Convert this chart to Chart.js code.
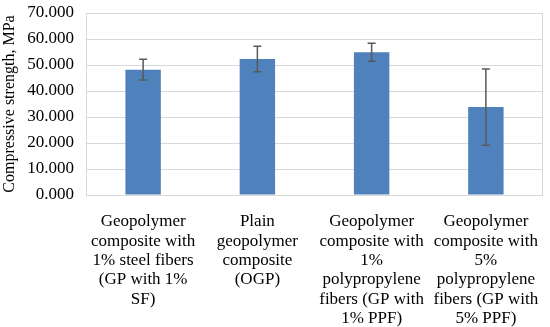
<!DOCTYPE html>
<html>
<head>
<meta charset="utf-8">
<script src="https://cdn.jsdelivr.net/npm/chart.js@4/dist/chart.umd.min.js"></script>
<style>
  html, body { margin: 0; padding: 0; background: #fff; }
  #wrap { width: 550px; height: 327px; }
</style>
</head>
<body>
<div id="wrap"><canvas id="strengthChart"></canvas></div>
<script>
// data
const categories = [
    ['Geopolymer', 'composite with', '1% steel fibers', '(GP with 1%', 'SF)'],
    ['Plain', 'geopolymer', 'composite', '(OGP)'],
    ['Geopolymer', 'composite with', '1%', 'polypropylene', 'fibers (GP with', '1% PPF)'],
    ['Geopolymer', 'composite with', '5%', 'polypropylene', 'fibers (GP with', '5% PPF)']
];
const strength = [48.2, 52.3, 54.9, 33.8];
const errorPlusMinus = [4.0, 4.9, 3.5, 14.7];
const yTicks = [0, 10, 20, 30, 40, 50, 60, 70];

// error bars drawn through the y scale
const errorBars = {
    id: 'errorBars',
    afterDatasetsDraw(chart) {
        const ctx = chart.ctx;
        const yScale = chart.scales.y;
        const meta = chart.getDatasetMeta(0);
        ctx.save();
        ctx.strokeStyle = '#595959';
        ctx.lineWidth = 1.5;
        meta.data.forEach((bar, i) => {
            const x = bar.x;
            const top = yScale.getPixelForValue(strength[i] + errorPlusMinus[i]);
            const bottom = yScale.getPixelForValue(strength[i] - errorPlusMinus[i]);
            ctx.beginPath();
            ctx.moveTo(x, top);
            ctx.lineTo(x, bottom);
            ctx.moveTo(x - 4, top);
            ctx.lineTo(x + 4, top);
            ctx.moveTo(x - 4, bottom);
            ctx.lineTo(x + 4, bottom);
            ctx.stroke();
        });
        ctx.restore();
    }
};

// light frame round the plot area
const plotFrame = {
    id: 'plotFrame',
    afterDraw(chart) {
        const a = chart.chartArea;
        const ctx = chart.ctx;
        ctx.save();
        ctx.strokeStyle = '#d9d9d9';
        ctx.lineWidth = 1;
        ctx.strokeRect(a.left + 0.5, a.top + 0.5, a.right - a.left - 1, a.bottom - a.top);
        ctx.restore();
    }
};

const serif = "'Liberation Serif', 'Times New Roman', serif";

new Chart(document.getElementById('strengthChart'), {
    type: 'bar',
    data: {
        labels: categories,
        datasets: [{
            data: strength,
            backgroundColor: '#4f81bd',
            borderWidth: 0,
            barPercentage: 0.31,
            categoryPercentage: 1
        }]
    },
    options: {
        responsive: true,
        maintainAspectRatio: false,
        animation: false,
        layout: { padding: { top: 13, right: 7, left: 0, bottom: 0 } },
        plugins: {
            legend: { display: false },
            tooltip: { enabled: false }
        },
        scales: {
            x: {
                grid: { display: false },
                border: { display: false },
                afterFit: axis => { axis.height = 132; axis.paddingLeft = 0; axis.paddingRight = 0; },
                ticks: {
                    color: '#000',
                    font: { family: serif, size: 17, lineHeight: 1.14 },
                    maxRotation: 0,
                    autoSkip: false,
                    padding: 9
                }
            },
            y: {
                min: 0,
                max: 70,
                afterBuildTicks: axis => { axis.ticks = yTicks.map(v => ({ value: v })); },
                afterFit: axis => { axis.width = 86; axis.paddingTop = 0; axis.paddingBottom = 0; },
                grid: { color: '#d9d9d9', lineWidth: 1, drawTicks: false },
                border: { display: false },
                ticks: {
                    color: '#000',
                    font: { family: serif, size: 17 },
                    autoSkip: false,
                    padding: 12,
                    callback: v => v.toFixed(3)
                },
                title: {
                    display: true,
                    text: 'Compressive strength, MPa',
                    color: '#000',
                    font: { family: serif, size: 16 },
                    padding: { top: 0, bottom: 0 }
                }
            }
        }
    },
    plugins: [errorBars, plotFrame]
});
</script>
</body>
</html>
